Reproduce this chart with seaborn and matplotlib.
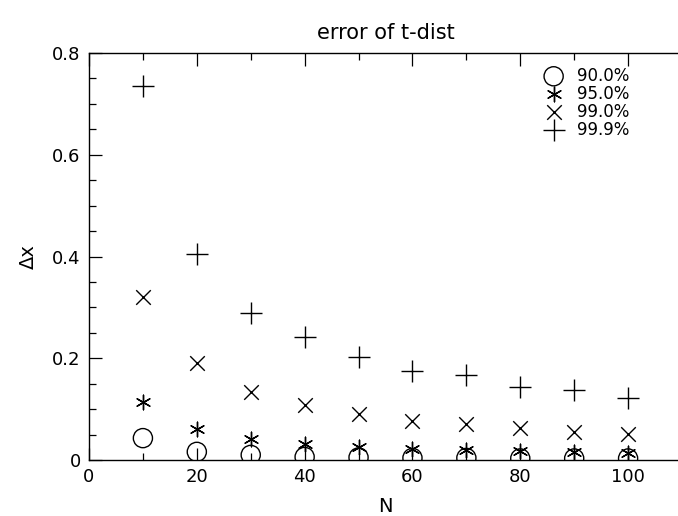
import numpy as np
import pandas as pd
import matplotlib
matplotlib.use("Agg")
import matplotlib.pyplot as plt
import seaborn as sns
from matplotlib.ticker import MultipleLocator

N = [10, 20, 30, 40, 50, 60, 70, 80, 90, 100]
levels = ["90.0%", "95.0%", "99.0%", "99.9%"]
err_900 = [0.043, 0.016, 0.010, 0.006, 0.005, 0.004, 0.004, 0.003, 0.003, 0.003]
err_950 = [0.114, 0.061, 0.041, 0.031, 0.025, 0.022, 0.019, 0.017, 0.015, 0.013]
err_990 = [0.320, 0.190, 0.134, 0.108, 0.091, 0.077, 0.071, 0.063, 0.055, 0.051]
err_999 = [0.735, 0.405, 0.289, 0.242, 0.202, 0.175, 0.167, 0.144, 0.138, 0.122]

df = pd.DataFrame({
    "N": N * 4,
    "dx": err_900 + err_950 + err_990 + err_999,
    "level": sum([[lv] * len(N) for lv in levels], []),
})

sns.set_style("ticks")
plt.rcParams["font.family"] = ["DejaVu Sans"]
plt.rcParams["text.color"] = "black"
plt.rcParams["axes.labelcolor"] = "black"
plt.rcParams["xtick.color"] = "black"
plt.rcParams["ytick.color"] = "black"
plt.rcParams["axes.edgecolor"] = "black"

fig = plt.figure(figsize=(6.78, 5.16), dpi=100)
ax = fig.add_axes([89 / 678, 56 / 516, 593 / 678, 407 / 516])

styles = {
    "90.0%": dict(marker="o", s=190, facecolor="none", edgecolor="black", linewidth=1.0),
    "95.0%": dict(marker=(6, 2, 0), s=110, color="black", linewidth=1.0),
    "99.0%": dict(marker="x", s=110, color="black", linewidth=1.0),
    "99.9%": dict(marker="+", s=240, color="black", linewidth=1.0),
}
for lv in levels:
    sub = df[df["level"] == lv]
    sns.scatterplot(data=sub, x="N", y="dx", ax=ax, label=lv, **styles[lv])

ax.set_xlim(0, 110)
ax.set_ylim(0, 0.8)
ax.xaxis.set_major_locator(MultipleLocator(20))
ax.xaxis.set_minor_locator(MultipleLocator(10))
ax.yaxis.set_major_locator(MultipleLocator(0.2))
ax.yaxis.set_minor_locator(MultipleLocator(0.05))
ax.set_yticks([0, 0.2, 0.4, 0.6, 0.8])
ax.set_yticklabels(["0", "0.2", "0.4", "0.6", "0.8"])
ax.tick_params(which="both", direction="in", top=True, right=False, labelsize=13, width=0.9, pad=6)
ax.tick_params(which="major", length=9)
ax.tick_params(which="minor", length=5)
for sp in ax.spines.values():
    sp.set_linewidth(1.0)
ax.spines["right"].set_visible(False)

ax.set_xlabel("N", fontsize=14, labelpad=8)
ax.set_ylabel("Δx", fontsize=14, labelpad=10)
ax.set_title("error of t-dist", fontsize=15, pad=10)

leg = ax.legend(loc="upper right", bbox_to_anchor=(636 / 678, 1 - 60 / 516),
                bbox_transform=fig.transFigure, frameon=False, fontsize=12,
                handletextpad=0.8, labelspacing=0.0, borderaxespad=0, handlelength=1.2)

fig.savefig("out.png", dpi=100)
